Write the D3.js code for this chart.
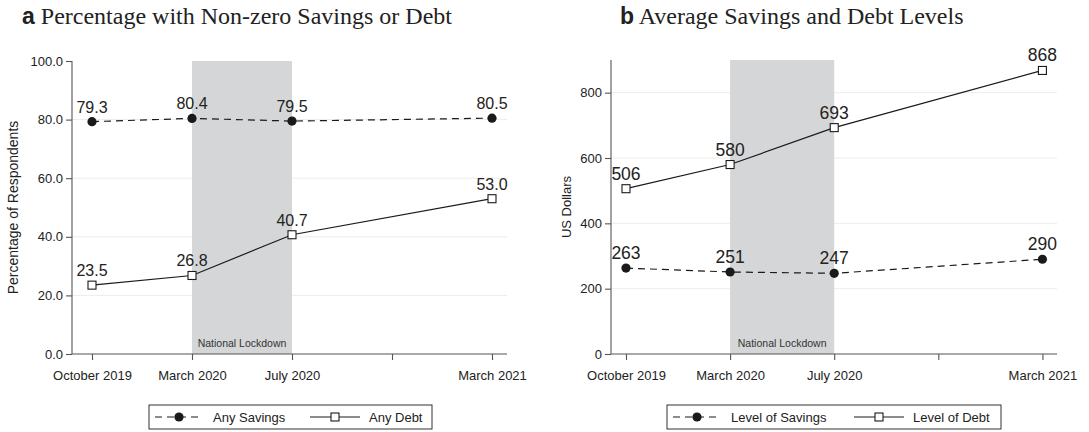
<!DOCTYPE html>
<html>
<head>
<meta charset="utf-8">
<script src="https://cdn.jsdelivr.net/npm/d3@7"></script>
<style>
  html, body { margin: 0; padding: 0; background: #fff; }
  svg { display: block; }
  text { fill: #222; }
</style>
</head>
<body>
<svg id="chart" width="1089" height="432"></svg>
<script>
// Survey waves and the x-axis tick labels (one unlabeled tick between July 2020 and March 2021)
const axisTicks = ["October 2019", "March 2020", "July 2020", "", "March 2021"];
const waves = ["October 2019", "March 2020", "July 2020", "March 2021"];
const lockdown = ["March 2020", "July 2020"];

// Panel a: share of respondents with non-zero savings / debt (%)
const anySavings = [79.3, 80.4, 79.5, 80.5];
const anyDebt = [23.5, 26.8, 40.7, 53.0];
const pctTicks = [0, 20, 40, 60, 80, 100];

// Panel b: average levels (US dollars)
const levelSavings = [263, 251, 247, 290];
const levelDebt = [506, 580, 693, 868];
const usdTicks = [0, 200, 400, 600, 800];

const svg = d3.select("#chart");
const SANS = "'Liberation Sans', Arial, sans-serif";
const SERIF = "'Liberation Serif', 'Times New Roman', serif";

function drawPanel(cfg) {
  const g = svg.append("g");
  const x = d3.scaleLinear().domain(cfg.xDomain).range(cfg.xRange);
  const y = d3.scaleLinear().domain(cfg.yDomain).range(cfg.yRange);
  const pos = name => axisTicks.indexOf(name);

  // title: bold sans letter + serif caption
  const title = g.append("text")
    .attr("x", cfg.titleX).attr("y", 24);
  title.append("tspan").text(cfg.letter)
    .style("font-family", SANS).style("font-weight", "bold").style("font-size", "23px");
  title.append("tspan").text(" " + cfg.title)
    .style("font-family", SERIF).style("font-size", "24px");

  // horizontal gridlines
  g.append("g").selectAll("line")
    .data(cfg.yTicks.filter(v => v > 0 && v < cfg.yDomain[1]))
    .join("line")
    .attr("x1", cfg.xRange[0]).attr("x2", cfg.xRange[1])
    .attr("y1", d => y(d)).attr("y2", d => y(d))
    .attr("stroke", "#ececec").attr("stroke-width", 1);

  // lockdown band
  const x0 = x(pos(lockdown[0])), x1 = x(pos(lockdown[1]));
  g.append("rect")
    .attr("x", x0).attr("y", y(cfg.yDomain[1]))
    .attr("width", x1 - x0).attr("height", y(cfg.yDomain[0]) - y(cfg.yDomain[1]))
    .attr("fill", "#d5d6d8");
  g.append("text")
    .attr("x", (x0 + x1) / 2).attr("y", y(0) - 7)
    .attr("text-anchor", "middle")
    .style("font-family", SANS).style("font-size", "10.5px")
    .style("fill", "#333")
    .text("National Lockdown");

  // y axis
  const yAxis = g.append("g")
    .attr("transform", `translate(${cfg.xRange[0]},0)`)
    .call(d3.axisLeft(y).tickValues(cfg.yTicks).tickFormat(cfg.yFormat).tickSize(6).tickPadding(3));
  yAxis.select(".domain").attr("d", `M0,${y(cfg.yDomain[1])}V${y(0)}`);

  // x axis
  const xAxis = g.append("g")
    .attr("transform", `translate(0,${y(0)})`)
    .call(d3.axisBottom(x).tickValues(d3.range(axisTicks.length))
      .tickFormat(i => axisTicks[i]).tickSize(6).tickPadding(11));
  xAxis.select(".domain").attr("d", `M${cfg.xRange[0]},0H${cfg.xRange[1]}`);

  [yAxis, xAxis].forEach(a => {
    a.select(".domain").attr("stroke", "#555").attr("stroke-width", 1.1);
    a.selectAll(".tick line").attr("stroke", "#555").attr("stroke-width", 1.1);
    a.selectAll(".tick text").style("font-family", SANS).style("font-size", "13px").attr("fill", "#222");
  });

  // y-axis title
  g.append("text")
    .attr("transform", `translate(${cfg.yLabelX},${(y(0) + y(cfg.yDomain[1])) / 2}) rotate(-90)`)
    .attr("text-anchor", "middle")
    .style("font-family", SANS).style("font-size", cfg.yLabelSize)
    .text(cfg.yLabel);

  const line = d3.line().x((d, i) => x(pos(waves[i]))).y(d => y(d));

  // debt series: solid line, hollow squares
  g.append("path").datum(cfg.debt)
    .attr("d", line).attr("fill", "none")
    .attr("stroke", "#1a1a1a").attr("stroke-width", 1.2);
  g.append("g").selectAll("rect").data(cfg.debt).join("rect")
    .attr("x", (d, i) => x(pos(waves[i])) - 4).attr("y", d => y(d) - 4)
    .attr("width", 8).attr("height", 8)
    .attr("fill", "#fff").attr("stroke", "#1a1a1a").attr("stroke-width", 1.1);

  // savings series: dashed line, filled circles
  g.append("path").datum(cfg.savings)
    .attr("d", line).attr("fill", "none")
    .attr("stroke", "#1a1a1a").attr("stroke-width", 1.2)
    .attr("stroke-dasharray", "7,5");
  g.append("g").selectAll("circle").data(cfg.savings).join("circle")
    .attr("cx", (d, i) => x(pos(waves[i]))).attr("cy", d => y(d))
    .attr("r", 4.6).attr("fill", "#1a1a1a");

  // value labels
  [cfg.savings, cfg.debt].forEach(series => {
    g.append("g").selectAll("text").data(series).join("text")
      .attr("x", (d, i) => x(pos(waves[i])))
      .attr("y", d => y(d) - 9)
      .attr("text-anchor", "middle")
      .style("font-family", SANS).style("font-size", cfg.labelSize)
      .text(d => cfg.labelFormat(d));
  });

  // legend
  const L = cfg.legend;
  const lg = g.append("g");
  lg.append("rect")
    .attr("x", L.x).attr("y", 405).attr("width", L.w).attr("height", 24)
    .attr("fill", "#fff").attr("stroke", "#333").attr("stroke-width", 1);
  const ly = 417;
  lg.append("line").attr("x1", L.x + 6).attr("x2", L.x + 54).attr("y1", ly).attr("y2", ly)
    .attr("stroke", "#1a1a1a").attr("stroke-width", 1.2).attr("stroke-dasharray", "7,5");
  lg.append("circle").attr("cx", L.x + 30).attr("cy", ly).attr("r", 4.6).attr("fill", "#1a1a1a");
  lg.append("text").attr("x", L.x + 64).attr("y", ly + 4.5)
    .style("font-family", SANS).style("font-size", "13px").text(L.names[0]);
  lg.append("line").attr("x1", L.x2).attr("x2", L.x2 + 50).attr("y1", ly).attr("y2", ly)
    .attr("stroke", "#1a1a1a").attr("stroke-width", 1.2);
  lg.append("rect").attr("x", L.x2 + 21).attr("y", ly - 4).attr("width", 8).attr("height", 8)
    .attr("fill", "#fff").attr("stroke", "#1a1a1a").attr("stroke-width", 1.1);
  lg.append("text").attr("x", L.x2 + 59).attr("y", ly + 4.5)
    .style("font-family", SANS).style("font-size", "13px").text(L.names[1]);
}

drawPanel({
  letter: "a", title: "Percentage with Non-zero Savings or Debt", titleX: 22,
  xDomain: [-0.2, 4.15], xRange: [72, 507],
  yDomain: [0, 100], yRange: [354, 61],
  yTicks: pctTicks, yFormat: d3.format(".1f"),
  yLabel: "Percentage of Respondents", yLabelX: 18, yLabelSize: "14px",
  savings: anySavings, debt: anyDebt,
  labelSize: "16px", labelFormat: d3.format(".1f"),
  legend: { x: 149, w: 283, x2: 310, names: ["Any Savings", "Any Debt"] }
});

drawPanel({
  letter: "b", title: "Average Savings and Debt Levels", titleX: 620,
  xDomain: [-0.144, 4.14], xRange: [611, 1057],
  yDomain: [0, 900], yRange: [354, 60],
  yTicks: usdTicks, yFormat: d3.format("d"),
  yLabel: "US Dollars", yLabelX: 571, yLabelSize: "13px",
  savings: levelSavings, debt: levelDebt,
  labelSize: "17.5px", labelFormat: d3.format("d"),
  legend: { x: 667, w: 334, x2: 854, names: ["Level of Savings", "Level of Debt"] }
});
</script>
</body>
</html>
